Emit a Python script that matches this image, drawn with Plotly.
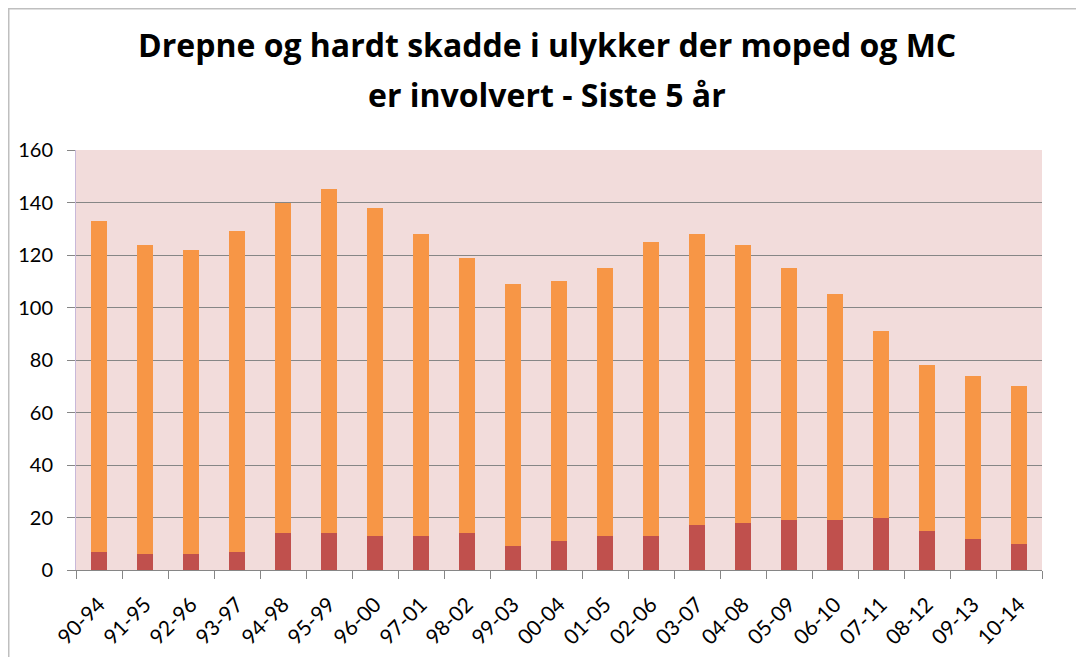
import plotly.graph_objects as go

categories = ["90-94", "91-95", "92-96", "93-97", "94-98", "95-99", "96-00", "97-01",
              "98-02", "99-03", "00-04", "01-05", "02-06", "03-07", "04-08", "05-09",
              "06-10", "07-11", "08-12", "09-13", "10-14"]
drepte = [7, 6, 6, 7, 14, 14, 13, 13, 14, 9, 11, 13, 13, 17, 18, 19, 19, 20, 15, 12, 10]
hardt_skadde = [126, 118, 116, 122, 126, 131, 125, 115, 105, 100, 99, 102, 112, 111, 106, 96,
                86, 71, 63, 62, 60]
y_ticks = [0, 20, 40, 60, 80, 100, 120, 140, 160]
title_lines = ["Drepne og hardt skadde i ulykker der moped og MC", "er involvert - Siste 5 år"]

OFF = 8  # page body margin
W, H = 1076, 649
L, R, T, B = 68, 42, 142, 87

fig = go.Figure()
fig.add_trace(go.Bar(x=categories, y=drepte, marker=dict(color="#C0504D", line_width=0),
                     name="Drepte"))
fig.add_trace(go.Bar(x=categories, y=hardt_skadde, marker=dict(color="#F79646", line_width=0),
                     name="Hardt skadde"))

pw = W - L - R
ph = H - T - B
def px(x):
    return (x - L) / pw
def py(y):
    return (H - B - y) / ph

annotations = []
for text, yc in zip(title_lines, [44, 94]):
    annotations.append(dict(text=text, showarrow=False, xref="paper", yref="paper",
                            x=px(547 - OFF), y=py(yc - OFF), xanchor="center", yanchor="middle",
                            font=dict(family="Open Sans", size=32, color="black", weight="bold")))

fig.update_layout(
    width=W, height=H,
    barmode="stack", bargap=0.65,
    showlegend=False,
    paper_bgcolor="white",
    plot_bgcolor="#F2DCDB",
    margin=dict(l=L, r=R, t=T, b=B, autoexpand=False),
    annotations=annotations,
    font=dict(family="Lato", color="black"),
    xaxis=dict(type="category", tickangle=-45, tickfont=dict(size=21, family="Lato", color="black"),
               ticks="outside", tickson="boundaries", ticklen=8, tickcolor="#868686",
               ticklabelstandoff=13, automargin=False,
               showline=True, linecolor="#868686", linewidth=1, showgrid=False),
    yaxis=dict(range=[0, 160], tickvals=y_ticks, tickfont=dict(size=20, family="Lato", color="black"),
               showgrid=True, gridcolor="#868686", gridwidth=1, ticks="outside", ticklen=8,
               tickcolor="#868686", ticklabelstandoff=10, automargin=False,
               showline=True, linecolor="#C8B8D8", zeroline=False),
    shapes=[
        dict(type="line", xref="paper", yref="paper", x0=px(0), x1=px(W), y0=py(0.5), y1=py(0.5),
             line=dict(color="#BFBFBF", width=2)),
        dict(type="line", xref="paper", yref="paper", x0=px(0.5), x1=px(0.5), y0=py(0), y1=py(H),
             line=dict(color="#BFBFBF", width=2)),
    ],
)

fig.write_html("out.html")
